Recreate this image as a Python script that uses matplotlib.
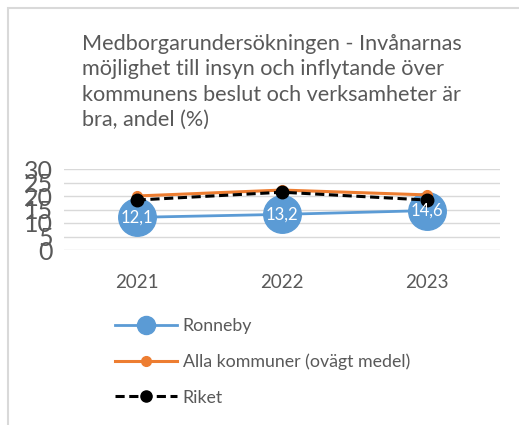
import matplotlib.pyplot as plt
from matplotlib.lines import Line2D
from matplotlib.patches import Rectangle

years = ["2021", "2022", "2023"]
ronneby = [12.1, 13.2, 14.6]
alla = [20.0, 22.2, 20.4]
riket = [18.5, 21.4, 18.5]
ronneby_labels = ["12,1", "13,2", "14,6"]

W, H = 519, 425
plt.rcParams['font.family'] = ['Lato', 'DejaVu Sans']
txt = '#595959'

fig = plt.figure(figsize=(W / 100, H / 100), dpi=100)

# ram runt diagrammet
fig.patches.append(Rectangle((8 / W, -0.1), 1.2, 1 - 8 / H + 0.1, transform=fig.transFigure,
                             fill=False, edgecolor='#D9D9D9', linewidth=1.5))

ax = fig.add_axes([64 / W, (H - 250) / H, (500 - 64) / W, (250 - 169) / H])
x = range(len(years))

ax.plot(x, ronneby, color='#5B9BD5', lw=2, marker='o', markersize=27, zorder=3)
ax.plot(x, alla, color='#ED7D31', lw=2.2, marker='o', markersize=7, zorder=4)
ax.plot(x, riket, color='black', lw=2.2, ls=(0, (3, 1.5)), marker='o', markersize=9, zorder=5)

for i, lab in enumerate(ronneby_labels):
    ax.text(i, ronneby[i], lab, color='white', ha='center', va='center', fontsize=12, zorder=6)

ax.set_xlim(-0.5, 2.5)
ax.set_ylim(0, 30)
ax.set_yticks(range(0, 31, 5))
ax.set_xticks(list(x))
ax.set_xticklabels(years)
ax.grid(axis='y', color='#D9D9D9', lw=1)
ax.set_axisbelow(True)
for s in ax.spines.values():
    s.set_visible(False)
ax.tick_params(length=0, colors=txt)
ax.tick_params(axis='y', labelsize=18, pad=8)
ax.tick_params(axis='x', labelsize=13.5, pad=17)

fig.text(82 / W, 1 - 34 / H, "Medborgarundersökningen - Invånarnas\nmöjlighet till insyn och inflytande över\n"
         "kommunens beslut och verksamheter är\nbra, andel (%)",
         ha='left', va='top', fontsize=15.6, color=txt, linespacing=1.33)

handles = [
    Line2D([], [], color='#5B9BD5', lw=2, marker='o', markersize=13),
    Line2D([], [], color='#ED7D31', lw=2.2, marker='o', markersize=7),
    Line2D([], [], color='black', lw=2.2, ls=(0, (3, 1.5)), marker='o', markersize=8),
]
fig.legend(handles, ["Ronneby", "Alla kommuner (ovägt medel)", "Riket"],
           loc='upper left', bbox_to_anchor=(99 / W, 1 - 302 / H), frameon=False,
           fontsize=12.8, labelcolor=txt, handlelength=3.5, labelspacing=1.1, handletextpad=0.3)

fig.savefig("out.png", dpi=100, facecolor='white')
